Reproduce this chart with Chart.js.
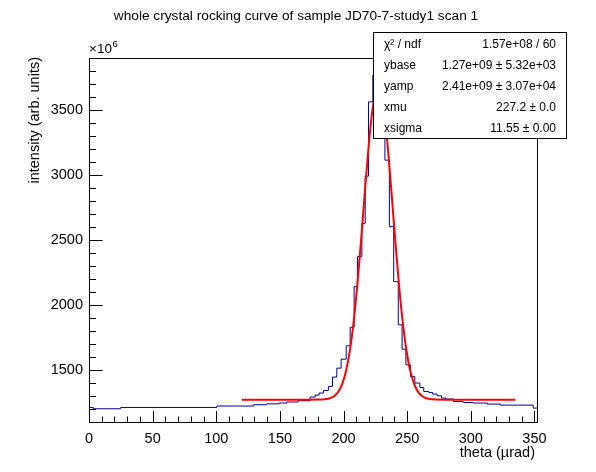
<!DOCTYPE html>
<html><head><meta charset="utf-8">
<script src="https://cdn.jsdelivr.net/npm/chart.js@4.4.1/dist/chart.umd.min.js"></script>
<style>html,body{margin:0;padding:0;background:#fff;}canvas{display:block;}</style>
</head><body>
<canvas id="c" width="596" height="472"></canvas>
<script>
const chartTitle = 'whole crystal rocking curve of sample JD70-7-study1 scan 1';
const xAxisTitle = 'theta (\u00b5rad)';
const yAxisTitle = 'intensity (arb. units)';
const yExponentBase = '\u00d710';
const yExponent = '6';

// histogram (variable-width bins), values in units of 1e6
const binEdges = [0, 3.4, 24.9, 100.4, 129.2, 139.7, 149.6, 155.4, 164.5, 173.7,
  177.7, 180.8, 184.2, 188.1, 191.3, 194.7, 198.1, 202.1, 205.2, 208.3,
  210.9, 214.4, 217, 219.6, 223, 226.2, 229.3, 232.5, 236, 239.4,
  243, 246, 249, 252.6, 256, 260, 263, 267, 270, 273.5,
  277, 280.5, 286.5, 294, 302, 313, 323, 349, 352];
const binValues = [1210, 1200, 1210, 1221, 1231, 1238, 1244, 1252, 1262, 1290,
  1305, 1321, 1341, 1372, 1444, 1513, 1582, 1685, 1828, 2141,
  2372, 2628, 2992, 3564, 3769, 3800, 3560, 3115, 2602, 2179,
  1846, 1659, 1538, 1448, 1398, 1364, 1333, 1325, 1313, 1300,
  1282, 1275, 1256, 1248, 1244, 1236, 1228, 1205];

// fitted curve
const fitX = [120,150,170,180,185,190,193,196,199,202,205,208,211,214,217,220,223,226,227.2,229,
  232,235,238,241,244,247,250,253,256,259,262,265,270,280,300,335];
const fitY = [1270,1270,1270,1271,1273,1284,1300,1333,1392,1493,1650,1875,2171,2524,2902,3254,3526,3667,3680,3651,
  3480,3189,2827,2451,2107,1825,1614,1469,1378,1324,1296,1281,1273,1270,1270,1270];

const xTickValues = [0, 50, 100, 150, 200, 250, 300, 350];
const yTickValues = [1500, 2000, 2500, 3000, 3500];
const xRange = [0, 352];
const yRange = [1098, 3902];
const xMinorStep = 10;
const yMinorStep = 100;

const statNames = ['\u03c7\u00b2 / ndf', 'ybase', 'yamp', 'xmu', 'xsigma'];
const statValues = ['1.57e+08 / 60', '1.27e+09 \u00b1 5.32e+03', '2.41e+09 \u00b1 3.07e+04', '227.2 \u00b1 0.0', '11.55 \u00b1 0.00'];

const FONT = '"Liberation Sans", Arial, Helvetica, sans-serif';

const histPoints = binValues.map((v, i) => ({x: binEdges[i], y: v}));
histPoints.push({x: binEdges[binEdges.length - 1], y: binValues[binValues.length - 1]});
const fitPoints = fitX.map((x, i) => ({x: x, y: fitY[i]}));

const rootDecor = {
  id: 'rootDecor',
  afterDraw(chart) {
    const ctx = chart.ctx;
    const a = chart.chartArea;
    const xs = chart.scales.x, ys = chart.scales.y;
    ctx.save();
    ctx.strokeStyle = '#000';
    ctx.fillStyle = '#000';
    ctx.lineWidth = 1;
    // frame
    ctx.strokeRect(Math.round(a.left) + 0.5, Math.round(a.top) + 0.5,
      Math.round(a.right - a.left), Math.round(a.bottom - a.top));
    // x ticks
    ctx.beginPath();
    for (let v = xRange[0]; v <= xRange[1] + 1e-9; v += xMinorStep) {
      const px = Math.round(xs.getPixelForValue(v)) + 0.5;
      const major = xTickValues.includes(v);
      const len = major ? 11 : 5.5;
      ctx.moveTo(px, a.bottom);
      ctx.lineTo(px, a.bottom - len);
    }
    // y ticks
    const yStart = Math.ceil(yRange[0] / yMinorStep) * yMinorStep;
    for (let v = yStart; v <= yRange[1]; v += yMinorStep) {
      const py = Math.round(ys.getPixelForValue(v)) + 0.5;
      const major = yTickValues.includes(v);
      const len = major ? 13.5 : 7;
      ctx.moveTo(a.left, py);
      ctx.lineTo(a.left + len, py);
    }
    ctx.stroke();

    // exponent
    ctx.textAlign = 'left';
    ctx.textBaseline = 'alphabetic';
    ctx.font = '13.5px ' + FONT;
    ctx.fillText(yExponentBase, a.left, 53);
    const w = ctx.measureText(yExponentBase).width;
    ctx.font = '9.5px ' + FONT;
    ctx.fillText(yExponent, a.left + w + 0.5, 47);

    // title
    ctx.font = '13.7px ' + FONT;
    ctx.textAlign = 'center';
    ctx.fillText(chartTitle, 296, 20);

    // x axis title
    ctx.font = '14.5px ' + FONT;
    ctx.textAlign = 'right';
    ctx.fillText(xAxisTitle, 535, 457);

    // y axis title
    ctx.save();
    ctx.translate(39, 57);
    ctx.rotate(-Math.PI / 2);
    ctx.textAlign = 'right';
    ctx.fillText(yAxisTitle, 0, 0);
    ctx.restore();

    // stat box
    const bx = 373.5, by = 32.5, bw = 193, bh = 106;
    ctx.fillStyle = '#fff';
    ctx.fillRect(bx, by, bw, bh);
    ctx.strokeStyle = '#000';
    ctx.strokeRect(bx, by, bw, bh);
    ctx.fillStyle = '#000';
    ctx.font = '12px ' + FONT;
    const rowH = bh / statNames.length;
    for (let i = 0; i < statNames.length; i++) {
      const cy = by + rowH * (i + 0.5) + 4.5;
      ctx.textAlign = 'left';
      ctx.fillText(statNames[i], 384, cy);
      ctx.textAlign = 'right';
      ctx.fillText(statValues[i], 556, cy);
    }
    ctx.restore();
  }
};

new Chart(document.getElementById('c'), {
  type: 'line',
  data: {
    datasets: [
      {
        label: 'fit',
        data: fitPoints,
        borderColor: '#ff0000',
        borderWidth: 2,
        pointRadius: 0,
        fill: false,
        cubicInterpolationMode: 'monotone'
      },
      {
        label: 'histogram',
        data: histPoints,
        borderColor: '#000099',
        borderWidth: 1,
        pointRadius: 0,
        fill: false,
        stepped: 'before'
      }
    ]
  },
  options: {
    responsive: false,
    devicePixelRatio: 1,
    animation: false,
    events: [],
    layout: {padding: {top: 58, right: 59, bottom: 0, left: 0}},
    plugins: {legend: {display: false}, tooltip: {enabled: false}, title: {display: false}},
    scales: {
      x: {
        type: 'linear',
        min: xRange[0], max: xRange[1],
        grid: {display: false, drawTicks: false},
        border: {display: false},
        afterBuildTicks: (s) => { s.ticks = xTickValues.map(v => ({value: v})); },
        afterFit: (s) => { s.height = 50; },
        ticks: {
          color: '#000', padding: 8, maxRotation: 0, autoSkip: false,
          font: {family: FONT, size: 14.5},
          callback: (v) => String(v)
        }
      },
      y: {
        type: 'linear',
        min: yRange[0], max: yRange[1],
        grid: {display: false, drawTicks: false},
        border: {display: false},
        afterBuildTicks: (s) => { s.ticks = yTickValues.map(v => ({value: v})); },
        afterFit: (s) => { s.width = 89; },
        ticks: {
          color: '#000', padding: 6, autoSkip: false,
          font: {family: FONT, size: 14.5},
          callback: (v) => String(v)
        }
      }
    }
  },
  plugins: [rootDecor]
});
</script>
</body></html>
